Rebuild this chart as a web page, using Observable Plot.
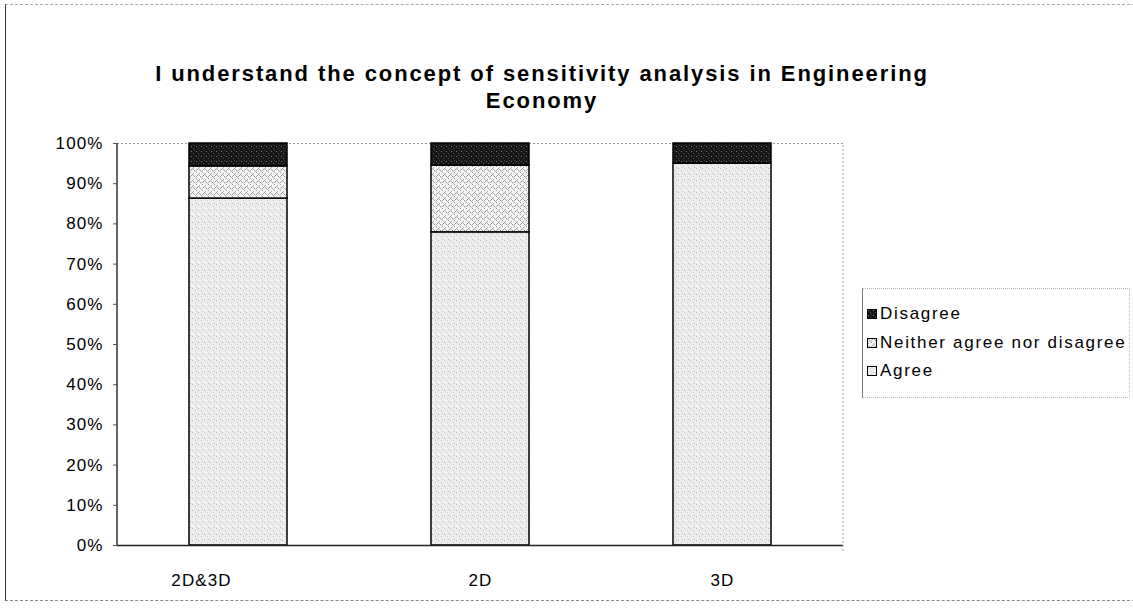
<!DOCTYPE html>
<html><head><meta charset="utf-8">
<script src="https://cdn.jsdelivr.net/npm/d3@7"></script>
<script src="https://cdn.jsdelivr.net/npm/@observablehq/plot@0.6"></script>
<style>
html,body{margin:0;padding:0;background:#fff;}
#wrap{position:relative;width:1133px;height:613px;font-family:"Liberation Sans",Arial,sans-serif;overflow:hidden;}
#title{position:absolute;left:40px;width:1004px;top:60px;text-align:center;font-weight:bold;font-size:22px;line-height:27px;color:#000;letter-spacing:1.9px;white-space:nowrap;}
#legend{position:absolute;left:862px;top:288px;width:268px;height:110px;border-left:1px solid #777;border-top:1px dotted #bbb;border-bottom:1px dotted #bbb;border-right:1px dotted #bbb;box-sizing:border-box;}
.item{position:absolute;left:4px;font-size:17px;letter-spacing:1.7px;color:#000;display:flex;align-items:center;white-space:nowrap;}
.item svg{margin-right:3px;}
#frame{position:absolute;left:5px;top:4px;width:1140px;height:597px;border-left:1.5px solid #333;border-top:1px dashed #aaa;border-bottom:1px dashed #888;box-sizing:border-box;pointer-events:none;}
#chart{position:absolute;left:0;top:0;}
#chart text{letter-spacing:1.1px;}
</style></head>
<body>
<svg width="0" height="0" style="position:absolute">
<defs>
<pattern id="pAgree" width="6" height="6" patternUnits="userSpaceOnUse">
<rect width="6" height="6" fill="#ececec"/>
<rect x="0" y="0" width="1" height="1" fill="#b8b8b8"/>
<rect x="3" y="2" width="1" height="1" fill="#c8c8c8"/>
<rect x="1" y="4" width="1" height="1" fill="#fafafa"/>
<rect x="4" y="5" width="1" height="1" fill="#bdbdbd"/>
</pattern>
<pattern id="pNeither" width="6" height="6" patternUnits="userSpaceOnUse">
<rect width="6" height="6" fill="#f4f4f4"/>
<rect x="0" y="0" width="1" height="1" fill="#999"/>
<rect x="1" y="1" width="1" height="1" fill="#b0b0b0"/>
<rect x="2" y="2" width="1" height="1" fill="#999"/>
<rect x="4" y="2" width="1" height="1" fill="#aaa"/>
<rect x="5" y="1" width="1" height="1" fill="#999"/>
<rect x="3" y="3" width="1" height="1" fill="#c0c0c0"/>
<rect x="4" y="4" width="1" height="1" fill="#999"/>
<rect x="1" y="5" width="1" height="1" fill="#aaa"/>
</pattern>
<pattern id="pDisagree" width="5" height="5" patternUnits="userSpaceOnUse">
<rect width="5" height="5" fill="#161616"/>
<rect x="1" y="1" width="1" height="1" fill="#777"/>
<rect x="3" y="3" width="1" height="1" fill="#555"/>
<rect x="4" y="0" width="1" height="1" fill="#444"/>
</pattern>
</defs>
</svg>
<div id="wrap">
<div id="chart"></div>
<div id="title">I understand the concept of sensitivity analysis in Engineering<br>Economy</div>
<div id="legend"></div>
<div id="frame"></div>
</div>
<script>
const categories = ["2D&3D", "2D", "3D"];
const seriesNames = ["Agree", "Neither agree nor disagree", "Disagree"];
const agree = [86.3, 77.9, 95.0];
const neither = [8.0, 16.6, 0.0];
const disagree = [5.7, 5.5, 5.0];
const yTicks = [0,10,20,30,40,50,60,70,80,90,100];
const legendOrder = ["Disagree", "Neither agree nor disagree", "Agree"];

const fills = ["url(#pAgree)", "url(#pNeither)", "url(#pDisagree)"];
const seriesValues = [agree, neither, disagree];
const rows = [];
categories.forEach((c, i) => {
  seriesNames.forEach((s, j) => {
    rows.push({category: c, series: s, value: seriesValues[j][i] / 100});
  });
});

const chart = Plot.plot({
  width: 1133,
  height: 613,
  marginTop: 143,
  marginBottom: 68,
  marginLeft: 117,
  marginRight: 290,
  style: {fontFamily: "Liberation Sans, Arial, sans-serif", fontSize: "17px", color: "#000", background: "transparent", overflow: "visible"},
  x: {domain: categories, paddingInner: 0.595, paddingOuter: 0.2975, label: null},
  y: {domain: [0, 1], label: null},
  color: {domain: seriesNames, range: fills},
  marks: [
    Plot.ruleY([1], {stroke: "#999", strokeDasharray: "2,2", strokeWidth: 1}),
    Plot.barY(rows, Plot.stackY({x: "category", y: "value", fill: "series", order: seriesNames, stroke: "#000", strokeWidth: 1.5})),
    Plot.ruleY([0], {stroke: "#222", strokeWidth: 1.5}),
    Plot.axisY({ticks: yTicks.map(t => t / 100), tickFormat: d => Math.round(d * 100) + "%", tickSize: 4, tickPadding: 10, stroke: "#555", fontSize: 17}),
    Plot.axisX({ticks: categories.slice(0, 1), tickSize: 0, tickPadding: 28, fontSize: 17, dx: -37}),
    Plot.axisX({ticks: categories.slice(1), tickSize: 0, tickPadding: 28, fontSize: 17})
  ]
});
document.getElementById("chart").appendChild(chart);

// y axis line and dotted right border placed with Plot's scales
const ys = chart.scale("y");
const svg = d3.select(chart);
const left = 117, right = 1133 - 290;
svg.append("line").attr("x1", left).attr("x2", left).attr("y1", ys.apply(0)).attr("y2", ys.apply(1)).attr("stroke", "#333").attr("stroke-width", 1.5);
svg.append("line").attr("x1", right).attr("x2", right).attr("y1", ys.apply(0) + 6).attr("y2", ys.apply(1)).attr("stroke", "#999").attr("stroke-dasharray", "2,2");

const legend = document.getElementById("legend");
legendOrder.forEach((s, i) => {
  const div = document.createElement("div");
  div.className = "item";
  div.style.top = (15 + i * 28.5) + "px";
  const f = fills[seriesNames.indexOf(s)];
  div.innerHTML = `<svg width="10" height="10"><rect x="0.5" y="0.5" width="9" height="9" fill="${f}" stroke="#000" stroke-width="1"/></svg><span>${s}</span>`;
  legend.appendChild(div);
});
</script>
</body></html>
